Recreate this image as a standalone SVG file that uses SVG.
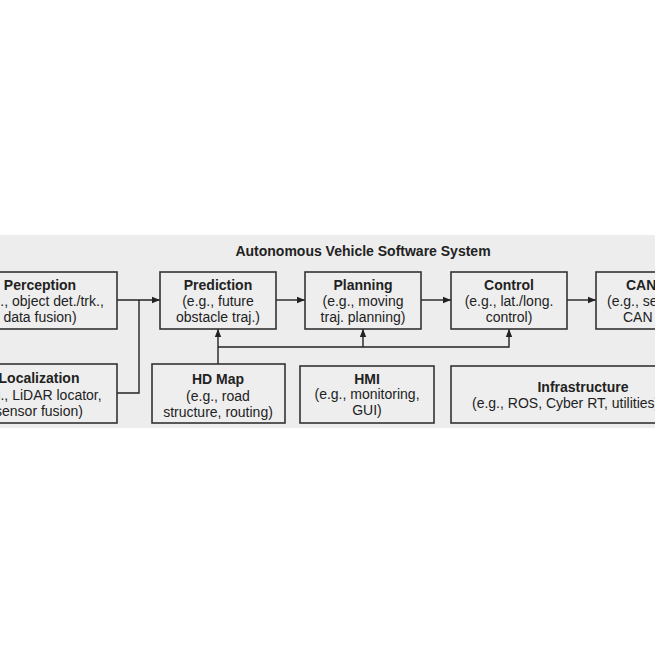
<svg xmlns="http://www.w3.org/2000/svg" width="655" height="655" viewBox="0 0 655 655">
<style>
.box{fill:#eeeeee;stroke:#333333;stroke-width:1.6}
.t{font-family:"Liberation Sans",Arial,sans-serif;font-size:14px;fill:#222222;text-anchor:middle}
.b{font-weight:bold}
.c{fill:none;stroke:#222222;stroke-width:1.4}
</style>
<defs>
<marker id="ah" viewBox="0 0 10 10" refX="10" refY="5" markerWidth="8" markerHeight="8" markerUnits="userSpaceOnUse" orient="auto">
<path d="M0,1 L10,5 L0,9 z" fill="#222222"/>
</marker>
</defs>
<rect x="0" y="0" width="655" height="655" fill="#ffffff"/>
<rect x="0" y="235" width="655" height="193" fill="#ededed"/>
<text class="t b" x="363" y="256">Autonomous Vehicle Software System</text>

<g id="connectors">
<path class="c" d="M117,300 H160" marker-end="url(#ah)"/>
<path class="c" d="M117,393 H139 V300"/>
<path class="c" d="M276,300 H305" marker-end="url(#ah)"/>
<path class="c" d="M421,300 H451" marker-end="url(#ah)"/>
<path class="c" d="M567,300 H596" marker-end="url(#ah)"/>
<path class="c" d="M218,364 V329" marker-end="url(#ah)"/>
<path class="c" d="M218,347 H509 V329" marker-end="url(#ah)"/>
<path class="c" d="M363,347 V329" marker-end="url(#ah)"/>
</g>

<g id="perception">
<rect class="box" x="-40" y="272" width="157" height="57"/>
<text class="t b" x="40" y="290">Perception</text>
<text class="t" x="40" y="306">(e.g., object det./trk.,</text>
<text class="t" x="40" y="322">data fusion)</text>
</g>
<g id="prediction">
<rect class="box" x="160" y="272" width="116" height="57"/>
<text class="t b" x="218" y="290">Prediction</text>
<text class="t" x="218" y="306">(e.g., future</text>
<text class="t" x="218" y="322">obstacle traj.)</text>
</g>
<g id="planning">
<rect class="box" x="305" y="272" width="116" height="57"/>
<text class="t b" x="363" y="290">Planning</text>
<text class="t" x="363" y="306">(e.g., moving</text>
<text class="t" x="363" y="322">traj. planning)</text>
</g>
<g id="control">
<rect class="box" x="451" y="272" width="116" height="57"/>
<text class="t b" x="509" y="290">Control</text>
<text class="t" x="509" y="306">(e.g., lat./long.</text>
<text class="t" x="509" y="322">control)</text>
</g>
<g id="can">
<rect class="box" x="596" y="272" width="116" height="57"/>
<text class="t b" x="626" y="290" style="text-anchor:start">CAN</text>
<text class="t" x="607" y="306" style="text-anchor:start">(e.g., send to</text>
<text class="t" x="623" y="322" style="text-anchor:start">CAN bus)</text>
</g>
<g id="localization">
<rect class="box" x="-40" y="364" width="157" height="59"/>
<text class="t b" x="39" y="383">Localization</text>
<text class="t" x="39" y="400">(e.g., LiDAR locator,</text>
<text class="t" x="39" y="416">sensor fusion)</text>
</g>
<g id="hdmap">
<rect class="box" x="152" y="364" width="133" height="59"/>
<text class="t b" x="218" y="384">HD Map</text>
<text class="t" x="218" y="401">(e.g., road</text>
<text class="t" x="218" y="417">structure, routing)</text>
</g>
<g id="hmi">
<rect class="box" x="300" y="366" width="134" height="57"/>
<text class="t b" x="367" y="384">HMI</text>
<text class="t" x="367" y="399">(e.g., monitoring,</text>
<text class="t" x="367" y="415">GUI)</text>
</g>
<g id="infrastructure">
<rect class="box" x="451" y="366" width="264" height="57"/>
<text class="t b" x="583" y="392">Infrastructure</text>
<text class="t" x="472" y="408" style="text-anchor:start">(e.g., ROS, Cyber RT, utilities)</text>
</g>
</svg>
